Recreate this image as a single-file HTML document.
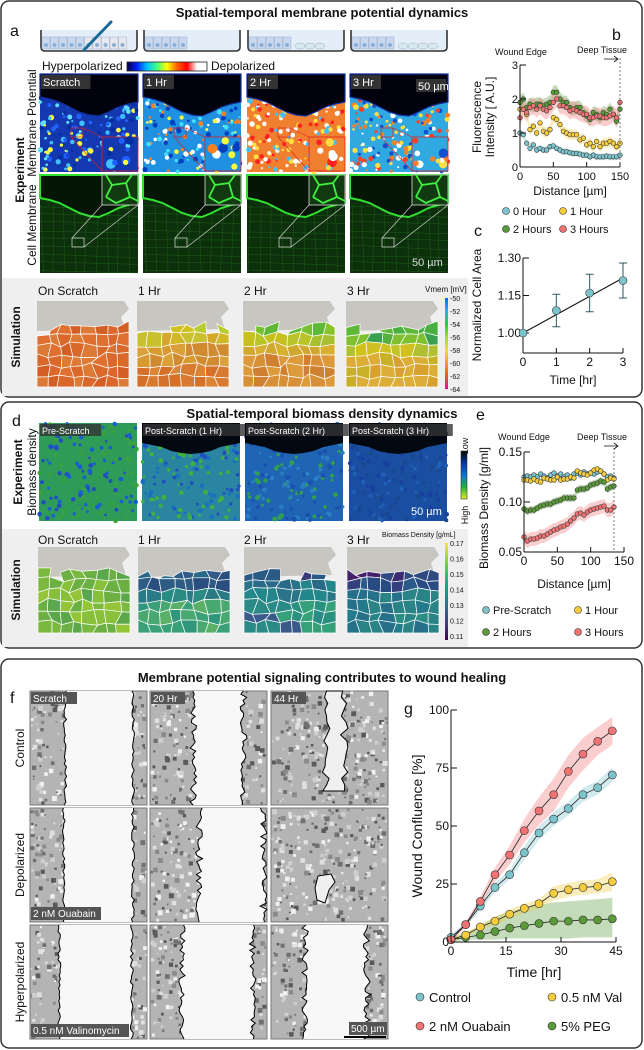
<!DOCTYPE html>
<html><head><meta charset="utf-8">
<style>
html,body{margin:0;padding:0;background:#fff;}
svg{display:block;font-family:"Liberation Sans",sans-serif;}
</style></head>
<body>
<svg id="fig" width="644" height="1050" viewBox="0 0 644 1050" xmlns="http://www.w3.org/2000/svg">
</svg>
<script>
// ---------- chart data ----------
const bDist = [0,5,10,15,20,25,30,35,40,45,50,55,60,65,70,75,80,85,90,95,100,105,110,115,120,125,130,135,140,145,150];
const b0Hour = [1.0,0.95,0.7,0.55,0.65,0.5,0.55,0.5,0.5,0.6,0.62,0.55,0.5,0.45,0.45,0.42,0.4,0.4,0.38,0.35,0.35,0.3,0.35,0.3,0.3,0.3,0.32,0.3,0.3,0.3,0.35];
const b1Hour = [1.7,1.7,1.55,1.1,1.2,1.0,1.3,1.05,1.0,1.1,1.45,1.4,1.25,1.05,1.0,0.95,0.95,0.95,0.8,0.85,0.65,0.7,0.6,0.75,0.6,0.7,0.7,0.75,0.7,0.6,0.7];
const b2Hours = [1.9,2.0,1.75,1.85,1.8,1.85,1.85,1.8,1.85,1.9,2.2,2.2,2.0,1.9,1.9,1.75,1.7,1.75,1.75,1.6,1.5,1.4,1.6,1.55,1.45,1.6,1.55,1.7,1.55,1.35,1.7];
const b3Hours = [1.45,1.7,1.6,1.75,1.8,1.7,1.8,1.7,1.65,1.75,1.9,2.0,1.8,1.8,1.75,1.65,1.7,1.65,1.6,1.55,1.55,1.45,1.45,1.5,1.5,1.45,1.45,1.5,1.55,1.45,1.9];
const bBand = [0.1,0.15,0.2,0.25];
const bXTicks = [0,50,100,150];
const bYTicks = [0,1,2,3];

const cTime = [0,1,2,3];
const cArea = [1.0,1.09,1.16,1.21];
const cErr = [0,0.065,0.075,0.07];
const cXTicks = [0,1,2,3];
const cYTicks = [1.00,1.15,1.30];

const eDist = [0,5,10,15,20,25,30,35,40,45,50,55,60,65,70,75,80,85,90,95,100,105,110,115,120,125,130,135];
const ePre = [0.125,0.126,0.125,0.127,0.125,0.128,0.126,0.124,0.127,0.129,0.126,0.128,0.125,0.127,0.124,0.128,0.129,0.127,0.130,0.128,0.129,0.128,0.130,0.131,0.128,0.125,0.126,0.124];
const e1Hour = [0.122,0.122,0.121,0.123,0.121,0.120,0.124,0.123,0.122,0.122,0.125,0.122,0.123,0.123,0.125,0.124,0.131,0.129,0.128,0.127,0.129,0.132,0.133,0.131,0.128,0.122,0.124,0.123];
const e2Hours = [0.093,0.091,0.092,0.092,0.094,0.096,0.097,0.098,0.098,0.100,0.101,0.102,0.104,0.104,0.104,0.104,0.112,0.113,0.113,0.114,0.117,0.118,0.119,0.121,0.120,0.113,0.115,0.116];
const e3Hours = [0.065,0.061,0.063,0.063,0.064,0.066,0.066,0.068,0.070,0.072,0.073,0.075,0.076,0.078,0.081,0.084,0.088,0.089,0.087,0.090,0.092,0.093,0.094,0.095,0.096,0.092,0.092,0.095];
const eBand = [0.003,0.003,0.004,0.007];
const eXTicks = [0,50,100,150];
const eYTicks = [0.05,0.10,0.15];

const gTime = [0,4,8,12,16,20,24,28,32,36,40,44];
const gControl = [2,7.5,15.5,23.5,29,38.5,47,53,57.5,63.5,66.5,72];
const gOuabain = [1,7.5,17.5,29,37.5,48,56.5,63.5,73.5,81,86.5,91];
const gVal = [1,3,6.5,9,12,14.5,16.5,21,22.5,23.5,24,26];
const gPEG = [1,2,3,4.5,6,7,8,9,9,9.5,9.5,10];
const gControlErr = [1,1,2,2,2,3,3,3,3,3,3,3];
const gOuabainErr = [1,1,2,3,4,5,6,7,7,7,6,6];
const gValErr = [1,1,1,1.5,2,2,2,3,3,3,3,4];
const gPEGHi = [2,4,7,11,13,15,16,17,17.5,18,18.5,19];
const gPEGLo = [0,1,1,1,1.5,1.5,1.5,1.5,1.5,2,2,2];
const gXTicks = [0,15,30,45];
const gYTicks = [0,25,50,75,100];

// ---------- helpers ----------
const NS = "http://www.w3.org/2000/svg";
const svg = document.getElementById('fig');
function mk(tag, attrs, name, inter, parent){
  const e = document.createElementNS(NS, tag);
  for (const k in attrs) e.setAttribute(k, attrs[k]);
  
  
  (parent || svg).appendChild(e);
  return e;
}
function txt(x, y, s, name, opts){
  opts = opts || {};
  const a = {x:x, y:y, 'font-size': opts.size || 11, fill: opts.fill || '#111'};
  if (opts.anchor) a['text-anchor'] = opts.anchor;
  if (opts.weight) a['font-weight'] = opts.weight;
  if (opts.rot !== undefined) a.transform = 'rotate(' + opts.rot + ' ' + x + ' ' + y + ')';
  const t = mk('text', a, name, false, opts.parent);
  t.textContent = s;
  return t;
}
let seed = 12345;
function rnd(){ seed = (seed * 16807) % 2147483647; return seed / 2147483647; }
function pick(arr){ return arr[Math.floor(rnd() * arr.length)]; }

// ---------- panel boxes ----------
mk('rect',{x:1,y:1,width:641,height:396,rx:8,fill:'none',stroke:'#333','stroke-width':1.5},'panel-a-box',false);
mk('rect',{x:1,y:402,width:641,height:246,rx:8,fill:'none',stroke:'#333','stroke-width':1.5},'panel-d-box',false);
mk('rect',{x:1,y:659,width:641,height:389,rx:8,fill:'none',stroke:'#333','stroke-width':1.5},'panel-f-box',false);

txt(322,17,'Spatial-temporal membrane potential dynamics','title-membrane-potential',{size:13,weight:'bold',anchor:'middle'});
txt(322,418,'Spatial-temporal biomass density dynamics','title-biomass-density',{size:13,weight:'bold',anchor:'middle'});
txt(322,682,'Membrane potential signaling contributes to wound healing','title-wound-healing',{size:13,weight:'bold',anchor:'middle'});
txt(10,36,'a','label-a',{size:16});
txt(612,40,'b','label-b',{size:16});
txt(474,236,'c','label-c',{size:16});
txt(12,426,'d','label-d',{size:16});
txt(476,420,'e','label-e',{size:16});
txt(10,703,'f','label-f',{size:16});
txt(404,714,'g','label-g',{size:16});

// ---------- gray simulation backgrounds ----------
mk('rect',{x:2,y:278,width:466,height:118,fill:'#efefef'},'simulation-a-background',false);
mk('rect',{x:2,y:529,width:466,height:118,fill:'#efefef'},'simulation-d-background',false);

// ---------- schematic wells ----------
const wellX = [41,144,248,351];
wellX.forEach((wx,i)=>{
  const g = mk('g',{},'scratch-schematic-'+i,false);
  mk('path',{d:`M${wx} 30 L${wx} 47 Q${wx} 51 ${wx+4} 51 L${wx+92} 51 Q${wx+96} 51 ${wx+96} 47 L${wx+96} 30`,fill:'#e4eef8',stroke:'#333','stroke-width':1.6},'well',false,g);
  const n = i===0?10:5;
  for(let k=0;k<n;k++){
    const cx = wx+5+k*8.5;
    mk('rect',{x:cx-4,y:37,width:8,height:12,fill:(i===0&&k>4)?'#e8e8ee':'#c8d8ee',stroke:'#8aa0c0','stroke-width':0.4},'cell',false,g);
    mk('circle',{cx:cx,cy:45,r:2,fill:'#8ab0d8'},'nucleus',false,g);
  }
  if(i>1){
    for(let k=0;k<(i===2?3:4);k++){ mk('ellipse',{cx:wx+52+k*10,cy:46,rx:5,ry:3,fill:'#d8e8f0',stroke:'#8aa0b8','stroke-width':0.4},'migrating-cell',false,g);}
  }
});
mk('line',{x1:84,y1:50,x2:111,y2:22,stroke:'#1a6a9a','stroke-width':3,'stroke-linecap':'round'},'scratch-tool',false);

// ---------- colorbars ----------
const defs = mk('defs',{},'defs',false);
function grad(id, stops, vertical){
  const g = mk('linearGradient',{id:id,x1:0,y1:0,x2:vertical?0:1,y2:vertical?1:0},'gradient-'+id,false,defs);
  stops.forEach((c,i)=>mk('stop',{offset:(i/(stops.length-1)),'stop-color':c},'stop',false,g));
}
grad('mpbar',['#000040','#0020ff','#00c0ff','#40ff80','#ffff00','#ff6000','#ff0000','#ffffff','#ffffff']);
grad('vmem',['#1060ff','#10c0e0','#20d040','#a0e020','#f0e020','#f0a020','#f05030','#e01090'],true);
grad('viridis',['#fde725','#7ad151','#22a884','#2a788e','#414487','#440154'],true);
grad('lowhigh',['#000000','#0838a0','#1070d0','#20b040','#e0f020'],true);
txt(42,70,'Hyperpolarized','hyperpolarized-label',{size:12});
mk('rect',{x:127,y:62,width:80,height:9,fill:'url(#mpbar)',stroke:'#222','stroke-width':0.8},'membrane-potential-colorbar',false);
txt(211,70,'Depolarized','depolarized-label',{size:12});

// ---------- experiment images, panel a ----------
const colX = [40,143,247,350];
function edgePath(x0,y0,top,rels){
  let d = `M${x0} ${y0} L${x0+98} ${y0} `;
  for(let k=10;k>=0;k--){ d += `L${x0+k*9.8} ${y0+rels[k]} `; }
  return d + 'Z';
}
const mpEdge = [23,25,28,33,38,41,42,38,33,30,28];
const mpBase = ['#1438b0','#2090e0','#f08030','#30a8e0'];
const mpDots = [['#2060ff','#40c0ff','#0030a0','#60e0ff','#ffff40'],
                ['#ffff40','#40e0ff','#ff8020','#ffffff','#0040c0'],
                ['#ffffff','#ff2020','#ffe040','#40c0ff','#ffffff'],
                ['#ff4020','#ffffff','#ffe040','#1050d0','#ff8020']];
const mpLabels = ['Scratch','1 Hr','2 Hr','3 Hr'];
colX.forEach((x0,i)=>{
  const y0 = 74;
  const g = mk('g',{},'membrane-potential-image-'+i,false);
  mk('rect',{x:x0,y:y0,width:98,height:98,fill:mpBase[i]},'image-base',false,g);
  for(let k=0;k<170;k++){
    mk('circle',{cx:x0+rnd()*98,cy:y0+20+rnd()*78,r:1+rnd()*1.8,fill:pick(mpDots[i])},'cell-dot',false,g);
  }
  mk('path',{d:edgePath(x0,y0,0,mpEdge),fill:'#02020e',stroke:'#1030a0','stroke-width':1.2},'wound-region',false,g);
  mk('rect',{x:x0+62,y:y0+63,width:36,height:34,fill:mpBase[i],stroke:'#e02020','stroke-width':0.8},'inset',false,g);
  for(let k=0;k<10;k++){
    mk('circle',{cx:x0+65+rnd()*30,cy:y0+66+rnd()*28,r:2+rnd()*3,fill:pick(mpDots[i])},'inset-blob',false,g);
  }
  mk('rect',{x:x0+31,y:y0+54,width:12,height:9,fill:'none',stroke:'#e02020','stroke-width':0.7},'zoom-box',false,g);
  mk('line',{x1:x0+31,y1:y0+63,x2:x0+62,y2:y0+97,stroke:'#e02020','stroke-width':0.6},'zoom-line',false,g);
  mk('line',{x1:x0+43,y1:y0+54,x2:x0+62,y2:y0+63,stroke:'#e02020','stroke-width':0.6},'zoom-line',false,g);
  mk('rect',{x:x0+1,y:y0+1,width:mpLabels[i].length*6.5+4,height:14,fill:'#333'},'label-bg',false,g);
  txt(x0+3,y0+12,mpLabels[i],'timepoint-label',{size:11,fill:'#fff',parent:g});
});
mk('rect',{x:416,y:79,width:30,height:13,fill:'#333'},'scalebar-bg',false);
txt(418,90,'50 µm','scalebar-label-mp',{size:11,fill:'#fff'});

colX.forEach((x0,i)=>{
  const y0 = 175;
  const g = mk('g',{},'cell-membrane-image-'+i,false);
  mk('rect',{x:x0,y:y0,width:98,height:98,fill:'#0d300c'},'image-base',false,g);
  for(let k=0;k<9;k++){
    mk('line',{x1:x0,y1:y0+30+k*8+rnd()*3,x2:x0+98,y2:y0+32+k*8+rnd()*3,stroke:'#1f6a1a','stroke-width':0.4},'membrane-line',false,g);
    mk('line',{x1:x0+k*11+rnd()*4,y1:y0+30,x2:x0+k*11+rnd()*4,y2:y0+98,stroke:'#1f6a1a','stroke-width':0.4},'membrane-line',false,g);
  }
  mk('path',{d:edgePath(x0,y0,0,mpEdge),fill:'#061606',stroke:'#30e030','stroke-width':2},'wound-edge',false,g);
  mk('rect',{x:x0+62,y:y0,width:36,height:30,fill:'#123a10',stroke:'#ddd','stroke-width':0.8},'inset',false,g);
  mk('path',{d:`M${x0+66} ${y0} L${x0+72} ${y0+10} L${x0+66} ${y0+22} M${x0+72} ${y0+10} L${x0+86} ${y0+8} L${x0+92} ${y0} M${x0+86} ${y0+8} L${x0+90} ${y0+22} L${x0+98} ${y0+26} M${x0+90} ${y0+22} L${x0+76} ${y0+28} L${x0+66} ${y0+22}`,fill:'none',stroke:'#40f040','stroke-width':1.8},'inset-membrane',false,g);
  mk('rect',{x:x0+32,y:y0+63,width:12,height:9,fill:'none',stroke:'#ddd','stroke-width':0.7},'zoom-box',false,g);
  mk('line',{x1:x0+32,y1:y0+63,x2:x0+62,y2:y0+30,stroke:'#ddd','stroke-width':0.6},'zoom-line',false,g);
  mk('line',{x1:x0+44,y1:y0+72,x2:x0+98,y2:y0+30,stroke:'#ddd','stroke-width':0.6},'zoom-line',false,g);
});
txt(412,266,'50 µm','scalebar-label-membrane',{size:11,fill:'#ddd'});

txt(24,170,'Experiment','experiment-label-a',{size:12,weight:'bold',anchor:'middle',rot:-90});
txt(36,123,'Membrane Potential','membrane-potential-row-label',{size:12,anchor:'middle',rot:-90});
txt(36,225,'Cell Membrane','cell-membrane-row-label',{size:12,anchor:'middle',rot:-90});
txt(20,337,'Simulation','simulation-label-a',{size:12,weight:'bold',anchor:'middle',rot:-90});

// ---------- simulation cells ----------
function cells(x0,y0,w,h,palettes,name){
  const g = mk('g',{},name,false);
  mk('path',{d:`M${x0} ${y0-22} L${x0+w-5} ${y0-22} L${x0+w} ${y0-14} L${x0+w-8} ${y0-6} L${x0+w-4} ${y0+6} L${x0} ${y0+8} Z`,fill:'#c8c6c0'},'wound-gray',false,g);
  const cols=8, rows=6, P=[];
  for(let i=0;i<=rows;i++){ P.push([]); for(let j=0;j<=cols;j++){
    const jx = (j===0||j===cols)?0:(rnd()-0.5)*7;
    const jy = (i===rows)?0:(rnd()-0.5)*6 + (i===0?(rnd()*6):0);
    P[i].push([x0+j*w/cols+jx, y0+i*h/rows+jy]); }}
  for(let i=0;i<rows;i++) for(let j=0;j<cols;j++){
    if(i===0 && rnd()<0.2) continue;
    const pal = palettes[Math.min(i,palettes.length-1)];
    const p = [P[i][j],P[i][j+1],P[i+1][j+1],P[i+1][j]];
    mk('polygon',{points:p.map(q=>q.join(',')).join(' '),fill:pick(pal),stroke:'#fff','stroke-width':0.7},'sim-cell',false,g);
  }
}
const simX = [37,137,243,346];
const simA = [
  [['#d9682a','#e07030','#d45f25','#dd7a35']],
  [['#c8c428','#a8c830','#d0c020','#b8cc30'],['#d0b828','#c8c030','#d4a828'],['#d89a30','#dca038','#d08a30'],['#d89a30','#dca038','#d08a30'],['#d87a30','#dc8435','#d47028']],
  [['#78c030','#88c428','#60b838'],['#b8c428','#a8c030','#c8c020'],['#d8b030','#d0a830'],['#d89038','#dc9a3a','#d08030']],
  [['#30a048','#48b040','#1a8a70','#60b838'],['#58b040','#3aa050','#0e7a70','#80c030'],['#c0c428','#b0c030','#d0c020'],['#d8a030','#dcae38','#c8b028']]
];
const simLabelsA = ['On Scratch','1 Hr','2 Hr','3 Hr'];
simX.forEach((x,i)=>{
  cells(x,323,92,64,simA[i],'simulation-a-'+i);
  txt(x+1,295,simLabelsA[i],'sim-title-a',{size:12});
});
txt(425,292,'Vmem [mV]','vmem-colorbar-title',{size:8});
mk('rect',{x:445,y:298,width:3,height:91,fill:'url(#vmem)'},'vmem-colorbar',false);
[-50,-52,-54,-56,-58,-60,-62,-64].forEach((v,k)=>txt(450,301+k*13,String(v),'vmem-tick',{size:7}));

// ---------- panel d experiment ----------
const bioX = [39,142,245,349];
const bioBase = ['#2e9c58','#2a86a0','#2064b4','#1a4ea0'];
const bioDots = [['#2050c0','#1860d0','#3aa040'],['#2050c0','#40b040','#1a70c0'],['#1a50b0','#2a80c0','#30a050'],['#1840a0','#2060b8','#1a4890']];
const bioLabels = ['Pre-Scratch','Post-Scratch (1 Hr)','Post-Scratch (2 Hr)','Post-Scratch (3 Hr)'];
const bioEdge = [20,22,24,28,30,31,30,28,24,22,20];
bioX.forEach((x0,i)=>{
  const y0 = 423;
  const g = mk('g',{},'biomass-image-'+i,false);
  mk('rect',{x:x0,y:y0,width:98,height:98,fill:bioBase[i]},'image-base',false,g);
  for(let k=0;k<150;k++) mk('circle',{cx:x0+rnd()*98,cy:y0+rnd()*98,r:1.3+rnd()*1.2,fill:pick(bioDots[i])},'cell-dot',false,g);
  if(i>0) mk('path',{d:edgePath(x0,y0,0,bioEdge),fill:'#020810'},'wound-region',false,g);
  mk('rect',{x:x0+1,y:y0+1,width:bioLabels[i].length*5.2+4,height:12,fill:'#333','fill-opacity':0.8},'label-bg',false,g);
  txt(x0+3,y0+11,bioLabels[i],'timepoint-label',{size:9,fill:'#fff',parent:g});
});
txt(411,515,'50 µm','scalebar-label-biomass',{size:11,fill:'#fff'});
mk('rect',{x:461,y:451,width:6,height:48,fill:'url(#lowhigh)',stroke:'#333','stroke-width':0.6},'biomass-colorbar',false);
txt(468,446,'Low','low-label',{size:9,anchor:'middle',rot:-90});
txt(468,515,'High','high-label',{size:9,anchor:'middle',rot:-90});
txt(22,472,'Experiment','experiment-label-d',{size:12,weight:'bold',anchor:'middle',rot:-90});
txt(36,472,'Biomass density','biomass-density-row-label',{size:12,anchor:'middle',rot:-90});
txt(20,590,'Simulation','simulation-label-d',{size:12,weight:'bold',anchor:'middle',rot:-90});

const simD = [
  [['#7ab840','#88c03a','#6cb044','#94c438','#5aa84a']],
  [['#2e5c84','#2a4e80','#345c88','#2a6a88'],['#2e5c84','#2a6a88','#2a4e80'],['#2a7a86','#2a8a84'],['#3aa078','#48a870','#30967c','#5ab068']],
  [['#2e4e80','#3a3a78','#2a5a86'],['#2a7488','#2a6a88','#22868a'],['#2a7488','#22868a'],['#2a9080','#36a07a','#2a8a86','#3a5a8a']],
  [['#3a2a70','#2e3a78','#44206a','#2e4a80'],['#2a4a82','#34407c','#2a5a88'],['#227a8a','#2a8486','#26708a','#2a8e82']]
];
simX.forEach((x,i)=>{
  cells(x+1,569,92,64,simD[i],'simulation-d-'+i);
  txt(x+1,544,simLabelsA[i],'sim-title-d',{size:12});
});
txt(382,537,'Biomass Density [g/mL]','biomass-colorbar-title',{size:7});
mk('rect',{x:445,y:543,width:3,height:97,fill:'url(#viridis)'},'viridis-colorbar',false);
[0.17,0.16,0.15,0.14,0.13,0.12,0.11].forEach((v,k)=>txt(450,546+k*15.5,v.toFixed(2),'density-tick',{size:7}));

// ---------- panel f ----------
const fX = [30,150,271];
const fY = [691,808,925];
const fH = 114;
const fWound = [[[30,88],[37,80],[44,66]],[[29,88],[42,97],[40,72]],[[25,87],[27,88],[29,82]]];
const fClosed = [[false,false,true],[false,false,true],[false,false,false]];
for(let r=0;r<3;r++) for(let c=0;c<3;c++){
  const x0=fX[c], y0=fY[r], w=117, h=fH;
  const g = mk('g',{},'wound-image-r'+r+'c'+c,false);
  mk('rect',{x:x0,y:y0,width:w,height:h,fill:'#b4b4b4',stroke:'#777','stroke-width':1},'image-base',false,g);
  for(let k=0;k<260;k++){ const s=1.5+rnd()*3.5; mk('rect',{x:x0+rnd()*(w-s),y:y0+rnd()*(h-s),width:s,height:s,fill:pick(['#707070','#e0e0e0','#8a8a8a','#cfcfcf','#5a5a5a','#f0f0f0'])},'texture',false,g); }
  const wl = fWound[r][c][0]/100*w, wr = fWound[r][c][1]/100*w;
  if(!fClosed[r][c]){
    let L=[],R=[];
    const jit = c===0?3:7;
    for(let k=0;k<=36;k++){ const yy=y0+k*h/36; L.push([x0+wl+(rnd()-0.5)*jit, yy]); R.push([x0+wr+(rnd()-0.5)*jit, yy]); }
    const pts = L.concat(R.slice().reverse()).map(p=>p.join(',')).join(' ');
    mk('polygon',{points:pts,fill:'#f8f8f8'},'wound-area',false,g);
    mk('polyline',{points:L.map(p=>p.join(',')).join(' '),fill:'none',stroke:'#000','stroke-width':1},'wound-edge-left',false,g);
    mk('polyline',{points:R.map(p=>p.join(',')).join(' '),fill:'none',stroke:'#000','stroke-width':1},'wound-edge-right',false,g);
  } else if(r===0){
    let pts=[];
    for(let k=0;k<=16;k++) pts.push([x0+wl+rnd()*8, y0+k*100/16]);
    for(let k=16;k>=0;k--) pts.push([x0+wr-rnd()*8, y0+k*100/16]);
    mk('polygon',{points:pts.map(p=>p.join(',')).join(' '),fill:'#f0f0f0',stroke:'#000','stroke-width':1},'wound-remnant',false,g);
  } else {
    mk('path',{d:`M${x0+47} ${y0+68} L${x0+60} ${y0+66} L${x0+64} ${y0+74} L${x0+58} ${y0+82} L${x0+54} ${y0+95} L${x0+46} ${y0+92} L${x0+44} ${y0+80} Z`,fill:'#f0f0f0',stroke:'#000','stroke-width':1},'wound-remnant',false,g);
  }
}
[['Scratch',30],['20 Hr',150],['44 Hr',271]].forEach(l=>{
  mk('rect',{x:l[1]+1,y:fY[0]+1,width:l[0].length*6+4,height:12,fill:'#555'},'label-bg',false);
  txt(l[1]+3,fY[0]+11,l[0],'timepoint-label-f',{size:10,fill:'#fff'});
});
mk('rect',{x:31,y:fY[1]+fH-15,width:70,height:13,fill:'#555'},'label-bg',false);
txt(33,fY[1]+fH-5,'2 nM Ouabain','ouabain-label',{size:10,fill:'#fff'});
mk('rect',{x:31,y:fY[2]+fH-15,width:98,height:13,fill:'#555'},'label-bg',false);
txt(33,fY[2]+fH-5,'0.5 nM Valinomycin','valinomycin-label',{size:10,fill:'#fff'});
mk('rect',{x:349,y:fY[2]+fH-17,width:38,height:13,fill:'#555'},'label-bg',false);
txt(351,fY[2]+fH-7,'500 µm','scalebar-label-f',{size:10,fill:'#fff'});
mk('line',{x1:344,y1:fY[2]+fH-2,x2:386,y2:fY[2]+fH-2,stroke:'#000','stroke-width':2},'scalebar-f',false);
txt(24,fY[0]+fH/2,'Control','control-row-label',{size:12,anchor:'middle',rot:-90});
txt(24,fY[1]+fH/2,'Depolarized','depolarized-row-label',{size:12,anchor:'middle',rot:-90});
txt(24,fY[2]+fH/2,'Hyperpolarized','hyperpolarized-row-label',{size:12,anchor:'middle',rot:-90});

// ---------- chart helpers ----------
const COL = {teal:'#7cc4cc', yellow:'#f4cc3c', green:'#5a9a38', red:'#f07272'};
function band(xs, lo, hi, sx, sy, color, name){
  const top = xs.map((x,i)=>sx(x)+','+sy(hi[i]));
  const bot = xs.map((x,i)=>sx(x)+','+sy(lo[i])).reverse();
  mk('polygon',{points:top.concat(bot).join(' '),fill:color,'fill-opacity':0.35},name,false);
}
function series(xs, ys, sx, sy, color, r, name, line){
  if(line) mk('polyline',{points:xs.map((x,i)=>sx(x)+','+sy(ys[i])).join(' '),fill:'none',stroke:'#222','stroke-width':0.8},name+'-line',false);
  xs.forEach((x,i)=>mk('circle',{cx:sx(x),cy:sy(ys[i]),r:r,fill:color,stroke:'#333','stroke-width':0.6},name+'-point',false));
}
function axes(x0,x1,y0,y1,xt,yt,sx,sy,fx,fy,name,fs){
  mk('line',{x1:x0,y1:y0,x2:x0,y2:y1,stroke:'#111','stroke-width':1},name+'-y-axis',false);
  mk('line',{x1:x0,y1:y0,x2:x1,y2:y0,stroke:'#111','stroke-width':1},name+'-x-axis',false);
  xt.forEach(v=>{ mk('line',{x1:sx(v),y1:y0,x2:sx(v),y2:y0-5,stroke:'#111','stroke-width':1},name+'-x-tick',false);
    txt(sx(v),y0+13,fx(v),name+'-x-tick-label',{size:fs,anchor:'middle'}); });
  yt.forEach(v=>{ mk('line',{x1:x0,y1:sy(v),x2:x0+6,y2:sy(v),stroke:'#111','stroke-width':1},name+'-y-tick',false);
    txt(x0-2,sy(v)+4,fy(v),name+'-y-tick-label',{size:fs,anchor:'end'}); });
}
function legendDot(x,y,color,label,name){
  mk('circle',{cx:x,cy:y,r:3.5,fill:color,stroke:'#333','stroke-width':0.6},name+'-marker',false);
  txt(x+7,y+4,label,name+'-label',{size:11});
}

// ---------- panel b ----------
{
  const sx = d=>520 + d/150*100, sy = v=>167 - v/3*102;
  const sets = [[b0Hour,COL.teal,bBand[0]],[b1Hour,COL.yellow,bBand[1]],[b2Hours,COL.green,bBand[2]],[b3Hours,COL.red,bBand[3]]];
  sets.forEach((s,k)=>band(bDist, s[0].map(v=>v-s[2]), s[0].map(v=>v+s[2]), sx, sy, s[1], 'b-band-'+k));
  sets.forEach((s,k)=>series(bDist, s[0], sx, sy, s[1], 2.3, 'b-series-'+k, false));
  axes(520,620,167,65,bXTicks,bYTicks,sx,sy,v=>String(v),v=>String(v),'b',11);
  mk('line',{x1:620,y1:58,x2:620,y2:167,stroke:'#444','stroke-width':0.7,'stroke-dasharray':'2,2'},'deep-tissue-line-b',false);
  txt(495,55,'Wound Edge','wound-edge-label-b',{size:9});
  txt(577,53,'Deep Tissue','deep-tissue-label-b',{size:9});
  mk('path',{d:'M604 59 L618 59 M614 56 L618 59 L614 62',fill:'none',stroke:'#111','stroke-width':0.8},'arrow-b',false);
  txt(481,117,'Fluorescence','b-y-title-1',{size:12,anchor:'middle',rot:-90});
  txt(494,117,'Intensity [ A.U.]','b-y-title-2',{size:12,anchor:'middle',rot:-90});
  txt(570,195,'Distance [µm]','b-x-title',{size:12,anchor:'middle'});
  legendDot(506,211,COL.teal,'0 Hour','b-legend-0hour');
  legendDot(563,211,COL.yellow,'1 Hour','b-legend-1hour');
  legendDot(506,229,COL.green,'2 Hours','b-legend-2hours');
  legendDot(563,229,COL.red,'3 Hours','b-legend-3hours');
}
// ---------- panel c ----------
{
  const sx = t=>523 + t/3*100, sy = v=>333 - (v-1)/0.3*75;
  axes(523,623,353,258,cXTicks,cYTicks,sx,sy,v=>String(v),v=>v.toFixed(2),'c',12);
  mk('line',{x1:sx(0),y1:sy(1.0),x2:sx(3),y2:sy(1.22),stroke:'#111','stroke-width':1},'c-fit-line',false);
  cTime.forEach((t,i)=>{
    if(cErr[i]>0){
      mk('line',{x1:sx(t),y1:sy(cArea[i]-cErr[i]),x2:sx(t),y2:sy(cArea[i]+cErr[i]),stroke:'#2a5a60','stroke-width':1},'c-errorbar',false);
      mk('line',{x1:sx(t)-4,y1:sy(cArea[i]-cErr[i]),x2:sx(t)+4,y2:sy(cArea[i]-cErr[i]),stroke:'#2a5a60','stroke-width':1},'c-errorcap',false);
      mk('line',{x1:sx(t)-4,y1:sy(cArea[i]+cErr[i]),x2:sx(t)+4,y2:sy(cArea[i]+cErr[i]),stroke:'#2a5a60','stroke-width':1},'c-errorcap',false);
    }
  });
  series(cTime,cArea,sx,sy,COL.teal,4,'c-area',false);
  txt(481,305,'Normalized Cell Area','c-y-title',{size:12,anchor:'middle',rot:-90});
  txt(573,384,'Time [hr]','c-x-title',{size:12,anchor:'middle'});
}
// ---------- panel e ----------
{
  const sx = d=>524 + d/150*100, sy = v=>552 - (v-0.05)/0.1*100;
  const sets = [[ePre,COL.teal,eBand[0]],[e1Hour,COL.yellow,eBand[1]],[e2Hours,COL.green,eBand[2]],[e3Hours,COL.red,eBand[3]]];
  sets.forEach((s,k)=>band(eDist, s[0].map(v=>v-s[2]), s[0].map(v=>v+s[2]), sx, sy, s[1], 'e-band-'+k));
  sets.forEach((s,k)=>series(eDist, s[0], sx, sy, s[1], 2.3, 'e-series-'+k, false));
  axes(524,624,552,452,eXTicks,eYTicks,sx,sy,v=>String(v),v=>v.toFixed(2),'e',12);
  mk('line',{x1:sx(135),y1:448,x2:sx(135),y2:552,stroke:'#444','stroke-width':0.7,'stroke-dasharray':'2,2'},'deep-tissue-line-e',false);
  txt(498,440,'Wound Edge','wound-edge-label-e',{size:9});
  txt(577,440,'Deep Tissue','deep-tissue-label-e',{size:9});
  mk('path',{d:'M604 446 L618 446 M614 443 L618 446 L614 449',fill:'none',stroke:'#111','stroke-width':0.8},'arrow-e',false);
  txt(488,508,'Biomass Density [g/ml]','e-y-title',{size:12,anchor:'middle',rot:-90});
  txt(574,588,'Distance [µm]','e-x-title',{size:12,anchor:'middle'});
  legendDot(486,610,COL.teal,'Pre-Scratch','e-legend-prescratch');
  legendDot(578,610,COL.yellow,'1 Hour','e-legend-1hour');
  legendDot(486,632,COL.green,'2 Hours','e-legend-2hours');
  legendDot(578,632,COL.red,'3 Hours','e-legend-3hours');
}
// ---------- panel g ----------
{
  const sx = t=>451 + t/45*165, sy = v=>942 - v/100*232;
  band(gTime,gPEGLo,gPEGHi,sx,sy,COL.green,'g-band-peg');
  band(gTime,gVal.map((v,i)=>v-gValErr[i]),gVal.map((v,i)=>v+gValErr[i]),sx,sy,COL.yellow,'g-band-val');
  band(gTime,gControl.map((v,i)=>v-gControlErr[i]),gControl.map((v,i)=>v+gControlErr[i]),sx,sy,COL.teal,'g-band-control');
  band(gTime,gOuabain.map((v,i)=>v-gOuabainErr[i]),gOuabain.map((v,i)=>v+gOuabainErr[i]),sx,sy,COL.red,'g-band-ouabain');
  series(gTime,gPEG,sx,sy,COL.green,4,'g-peg',true);
  series(gTime,gVal,sx,sy,COL.yellow,4,'g-val',true);
  series(gTime,gControl,sx,sy,COL.teal,4,'g-control',true);
  series(gTime,gOuabain,sx,sy,COL.red,4,'g-ouabain',true);
  axes(451,616,942,710,gXTicks,gYTicks,sx,sy,v=>String(v),v=>String(v),'g',12);
  txt(422,826,'Wound Confluence [%]','g-y-title',{size:14,anchor:'middle',rot:-90});
  txt(534,977,'Time [hr]','g-x-title',{size:14,anchor:'middle'});
  const lg = (x,y,c,l,n)=>{ mk('circle',{cx:x,cy:y,r:4,fill:c,stroke:'#333','stroke-width':0.6},n+'-marker',false); txt(x+9,y+5,l,n+'-label',{size:13}); };
  lg(420,997,COL.teal,'Control','g-legend-control');
  lg(552,997,COL.yellow,'0.5 nM Val','g-legend-val');
  lg(420,1026,COL.red,'2 nM Ouabain','g-legend-ouabain');
  lg(552,1026,COL.green,'5% PEG','g-legend-peg');
}
</script>
</body></html>
